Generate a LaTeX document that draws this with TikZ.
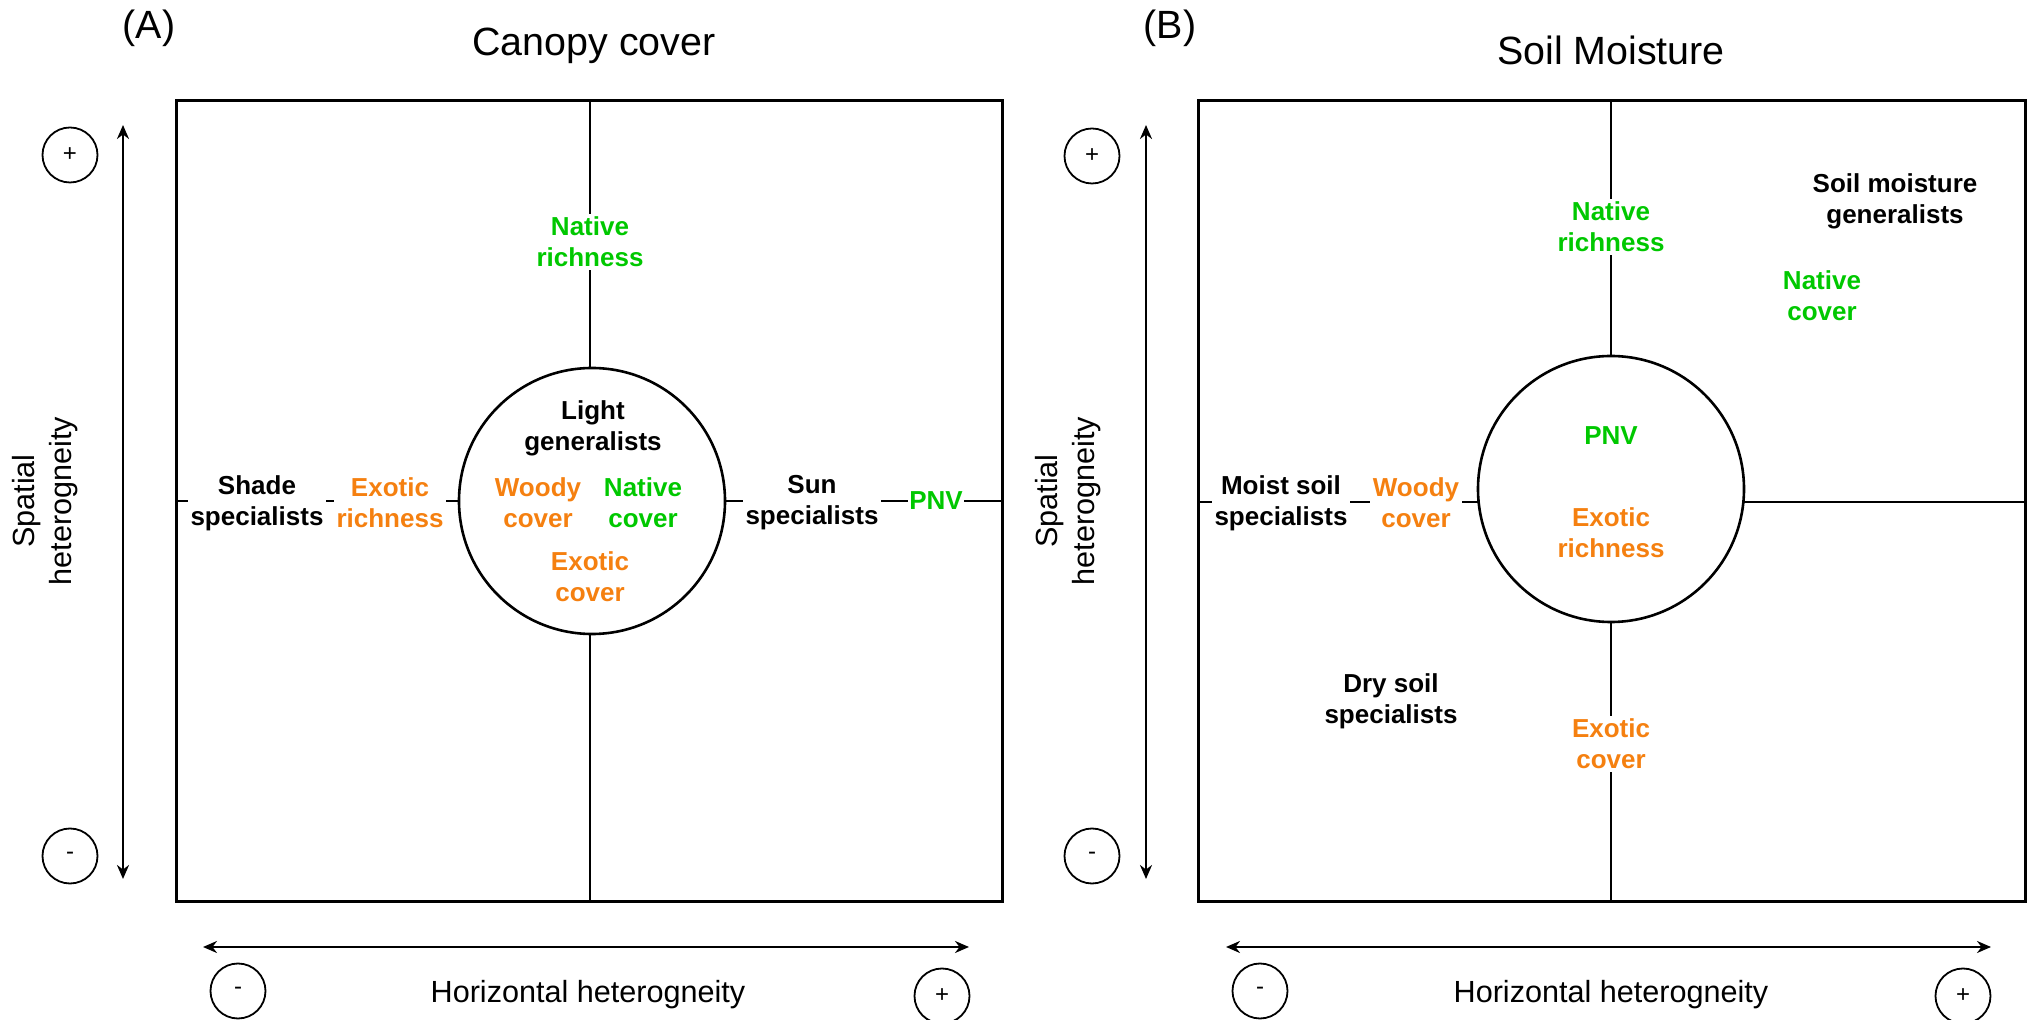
\documentclass[tikz,border=0pt]{standalone}
\usepackage{fontspec}
\setmainfont{Liberation Sans}
\usetikzlibrary{arrows.meta}
\definecolor{ngreen}{RGB}{0,200,0}
\definecolor{xorange}{RGB}{245,128,16}
\begin{document}
\begin{tikzpicture}[x=0.5pt,y=-0.5pt,
  lab/.style={font=\fontsize{13}{15.6}\selectfont\bfseries, align=center, fill=white, inner sep=1.5pt},
  grn/.style={lab, text=ngreen},
  org/.style={lab, text=xorange},
  blk/.style={lab, text=black},
  ttl/.style={font=\fontsize{19.7}{23}\selectfont, inner sep=0pt},
  axl/.style={font=\fontsize{15.3}{18.4}\selectfont, align=center, inner sep=0pt},
  sign/.style={draw, circle, minimum size=27.5pt, inner sep=0pt, line width=0.9pt, font=\fontsize{12}{14}\selectfont},
  frame/.style={line width=1.5pt},
  cross/.style={line width=1pt},
  bigc/.style={draw, circle, fill=white, minimum size=133pt, inner sep=0pt, line width=1.3pt},
  dbl/.style={{Stealth[length=7pt,width=6pt]}-{Stealth[length=7pt,width=6pt]}, line width=1.3pt}
]
\useasboundingbox (0,0) rectangle (2031,1020);

% ---------------- Panel A ----------------
\node[ttl] (Alab) at (149,28) {(A)};
\node[ttl] (Atitle) at (594,46) {Canopy cover};

\coordinate (At) at (590,101);
\coordinate (Ab) at (590,902);
\coordinate (Al) at (176,501);
\coordinate (Ar) at (1002,501);
\draw[cross] (At) -- (Ab);
\draw[cross] (Al) -- (Ar);
\draw[frame] (176,101) rectangle (1002,902);
\node[bigc] (Ac) at (592,501) {};

\node[grn] (Anr) at (590,242) {Native\\richness};
\node[blk] (Alg) at (593,428) {Light\\generalists};
\node[org] (Awc) at (538,503) {Woody\\cover};
\node[grn] (Anc) at (643,503) {Native\\cover};
\node[org] (Aec) at (590,577) {Exotic\\cover};
\node[blk] (Ass) at (257,503) {Shade\\specialists};
\node[org] (Aer) at (390,503) {Exotic\\richness};
\node[blk] (Asu) at (812,503) {Sun\\specialists};
\node[grn, inner sep=0.5pt] (Apnv) at (936,501) {PNV};

% vertical axis A
\coordinate (Avu) at (123,125);
\coordinate (Avd) at (123,879);
\draw[dbl] (Avu) -- (Avd);
\node[sign] (Aplus) at (70,155) {+};
\node[sign] (Aminus) at (70,856) {-};
\node[axl, rotate=90] (Aspat) at (45,501) {Spatial\\heterogneity};

% horizontal axis A
\coordinate (Ahl) at (203,947);
\coordinate (Ahr) at (969,947);
\draw[dbl] (Ahl) -- (Ahr);
\node[sign] (Ahm) at (238,991) {-};
\node[sign] (Ahp) at (942,996) {+};
\node[axl] (Ahor) at (588,995) {Horizontal heterogneity};

% ---------------- Panel B ----------------
\node[ttl] (Blab) at (1170,28) {(B)};
\node[ttl] (Btitle) at (1611,50) {Soil Moisture};

\coordinate (Bt) at (1611,101);
\coordinate (Bb) at (1611,902);
\coordinate (Bl) at (1198,502);
\coordinate (Br) at (2025,502);
\draw[cross] (Bt) -- (Bb);
\draw[cross] (Bl) -- (Br);
\draw[frame] (1198,101) rectangle (2025,902);
\node[bigc] (Bc) at (1611,489) {};

\node[grn] (Bnr) at (1611,227) {Native\\richness};
\node[blk, fill=none] (Bgen) at (1895,201) {Soil moisture\\generalists};
\node[grn, fill=none] (Bnc) at (1822,296) {Native\\cover};
\node[grn] (Bpnv) at (1611,436) {PNV};
\node[org] (Ber) at (1611,533) {Exotic\\richness};
\node[blk] (Bms) at (1281,503) {Moist soil\\specialists};
\node[org] (Bwc) at (1416,503) {Woody\\cover};
\node[blk, fill=none] (Bds) at (1391,701) {Dry soil\\specialists};
\node[org] (Bec) at (1611,744) {Exotic\\cover};

% vertical axis B
\coordinate (Bvu) at (1146,125);
\coordinate (Bvd) at (1146,879);
\draw[dbl] (Bvu) -- (Bvd);
\node[sign] (Bplus) at (1092,156) {+};
\node[sign] (Bminus) at (1092,856) {-};
\node[axl, rotate=90] (Bspat) at (1068,501) {Spatial\\heterogneity};

% horizontal axis B
\coordinate (Bhl) at (1226,947);
\coordinate (Bhr) at (1991,947);
\draw[dbl] (Bhl) -- (Bhr);
\node[sign] (Bhm) at (1260,991) {-};
\node[sign] (Bhp) at (1963,996) {+};
\node[axl] (Bhor) at (1611,995) {Horizontal heterogneity};
\end{tikzpicture}
\end{document}
